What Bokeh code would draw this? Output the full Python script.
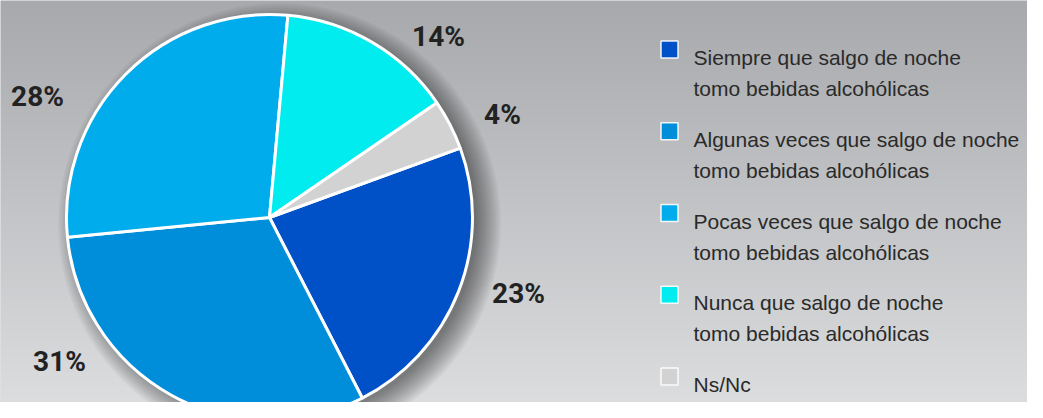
import numpy as np
from bokeh.plotting import figure
from bokeh.models import Range1d, ColumnDataSource
from bokeh.core.properties import value
from bokeh.embed import file_html
from bokeh.resources import INLINE

# ---------------- data ----------------
categories = [
    "Siempre que salgo de noche\ntomo bebidas alcohólicas",
    "Algunas veces que salgo de noche\ntomo bebidas alcohólicas",
    "Pocas veces que salgo de noche\ntomo bebidas alcohólicas",
    "Nunca que salgo de noche\ntomo bebidas alcohólicas",
    "Ns/Nc",
]
percent = [23, 31, 28, 14, 4]
colors = ["#0050c8", "#008edb", "#00acec", "#00ecee", "#d2d2d2"]
labels = [f"{v}%" for v in percent]

# ---------------- layout ----------------
W, H = 1027, 402
REF_H = 418                         # data y = REF_H - reference pixel y
CX, CY, R = 269, 201, 203           # pie centre / radius (data units = px)
START_DEG = 20.0                    # first slice starts here, clockwise
label_xy = [(518, 125), (59, 57), (37, 322), (438, 382), (502, 304)]
LEG_X_SQ, LEG_X_TXT = 669, 693
LEG_TOP, LEG_STEP = 49, 81.75       # reference-pixel y of first square, row step
LINE_GAP = 31

p = figure(width=W, height=H, x_range=Range1d(0, W), y_range=Range1d(REF_H - H, REF_H),
           output_backend="svg", toolbar_location=None, min_border=0,
           x_axis_type=None, y_axis_type=None)
p.grid.visible = False
p.outline_line_color = None
p.background_fill_color = "#c4c6c8"
p.border_fill_color = "#c4c6c8"

# background vertical gradient
top = np.array([0xa7, 0xa9, 0xac], float)
bot = np.array([0xdb, 0xdd, 0xdf], float)
n = H
t = (np.arange(n) / (n - 1))[:, None]          # 0 bottom -> 1 top
rgb = (bot * (1 - t) + top * t).astype(np.uint32)
img = np.empty((n, 1), dtype=np.uint32)
view = img.view(dtype=np.uint8).reshape((n, 1, 4))
view[:, 0, 0] = rgb[:, 0]
view[:, 0, 1] = rgb[:, 1]
view[:, 0, 2] = rgb[:, 2]
view[:, 0, 3] = 255
p.image_rgba(image=[img], x=0, y=REF_H - H, dw=W, dh=H)

# soft drop shadow
for i in range(12):
    p.circle(x=CX + 10, y=CY - 7, radius=R - 6 + i * 2.2,
             fill_color="black", fill_alpha=0.045, line_color=None)

# pie
cum = np.concatenate([[0], np.cumsum(percent)])
starts = np.deg2rad(START_DEG - cum[:-1] * 3.6)
ends = np.deg2rad(START_DEG - cum[1:] * 3.6)
src = ColumnDataSource(dict(start=starts, end=ends, color=colors, label=labels))
p.wedge(x=CX, y=CY, radius=R, start_angle="start", end_angle="end", direction="clock",
        fill_color="color", line_color="white", line_width=3, source=src)

# percentage labels
p.text(x=[xy[0] for xy in label_xy], y=[xy[1] for xy in label_xy], text=labels,
       text_font=value("Roboto"), text_font_style="bold",
       text_font_size="28px", text_color="#222222",
       text_align="center", text_baseline="middle")

# legend
ref_y = LEG_TOP + np.arange(len(categories)) * LEG_STEP
sq_y = REF_H - ref_y
p.rect(x=LEG_X_SQ, y=sq_y, width=17, height=17, width_units="screen", height_units="screen",
       fill_color=colors, line_color="white", line_width=1.5, line_alpha=0.9)
l1 = [c.split("\n")[0] for c in categories]
l2 = [c.split("\n")[1] if "\n" in c else "" for c in categories]
p.text(x=LEG_X_TXT, y=REF_H - (ref_y + 8), text=l1,
       text_font=value("Liberation Sans"), text_font_size="21px", text_color="#2a2a2a",
       text_align="left", text_baseline="alphabetic")
p.text(x=LEG_X_TXT, y=REF_H - (ref_y + 8 + LINE_GAP), text=l2,
       text_font=value("Liberation Sans"), text_font_size="21px", text_color="#2a2a2a",
       text_align="left", text_baseline="alphabetic")

open("out.html", "w").write(file_html(p, INLINE))
